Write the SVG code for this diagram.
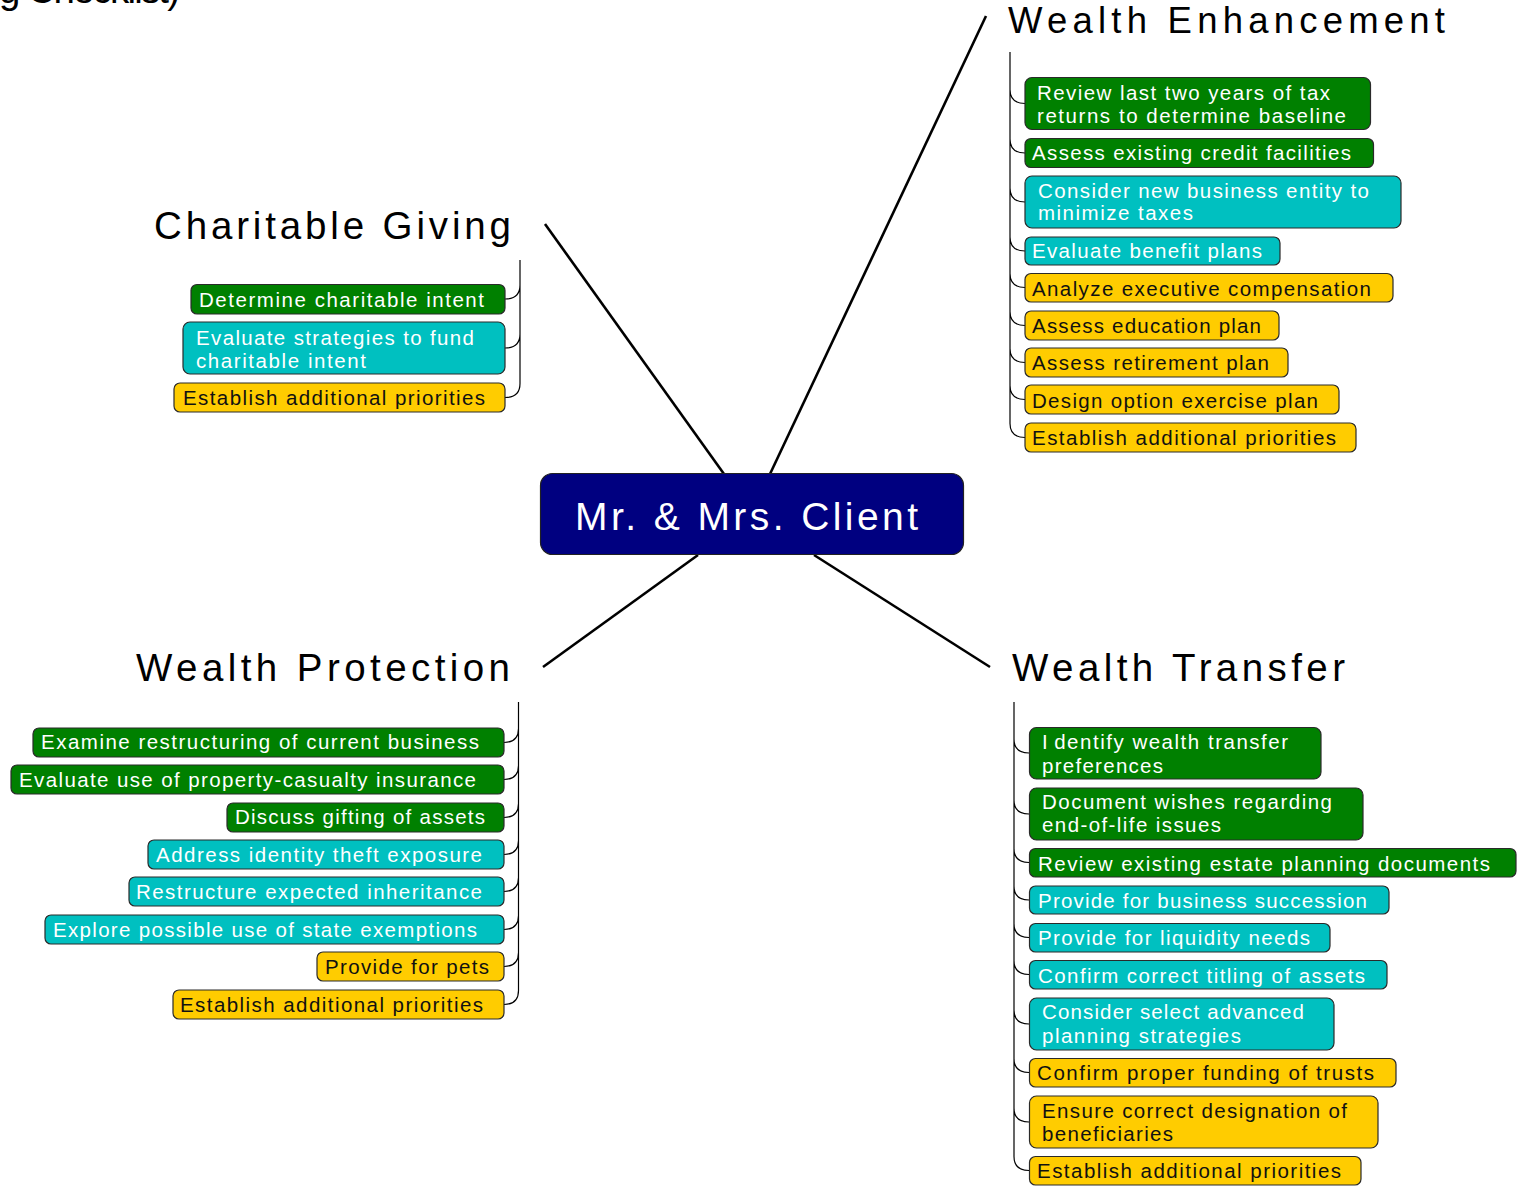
<svg xmlns="http://www.w3.org/2000/svg" width="1521" height="1191" viewBox="0 0 1521 1191">
<style>
text{font-family:"Liberation Sans",Arial,sans-serif}
.n rect{stroke:#2a2a2a;stroke-width:1.2}
.g rect{fill:#008000}.c rect{fill:#00C0C0}.y rect{fill:#FFCC00}
.g text,.c text{fill:#ffffff}.y text{fill:#111111}
.n text{font-size:20.5px}
.t{font-size:38.5px;fill:#000}
.con path,.con line{fill:none;stroke:#000}
.main{stroke-width:2.6}
.br{stroke-width:1.2}
</style>
<text class="t" x="-1" y="3" textLength="181" lengthAdjust="spacing">g Checklist)</text>
<g id="connectors" class="con">
<line class="main" x1="724" y1="474" x2="545" y2="224"/>
<line class="main" x1="770" y1="474" x2="986" y2="16"/>
<line class="main" x1="698" y1="555" x2="543" y2="667"/>
<line class="main" x1="814" y1="555" x2="990" y2="667"/>
<path class="br" d="M1010,52V423.5M1010,89.5Q1010,103.5 1025,103.5M1010,139Q1010,153 1025,153M1010,188Q1010,202 1025,202M1010,237Q1010,251 1025,251M1010,273.5Q1010,287.5 1025,287.5M1010,311.5Q1010,325.5 1025,325.5M1010,348.5Q1010,362.5 1025,362.5M1010,385.5Q1010,399.5 1025,399.5M1010,423.5Q1010,437.5 1025,437.5"/>
<path class="br" d="M520,260V383.5M520,285Q520,299 505,299M520,334Q520,348 505,348M520,383.5Q520,397.5 505,397.5"/>
<path class="br" d="M518.5,702V990.5M518.5,728.5Q518.5,742.5 504,742.5M518.5,765.5Q518.5,779.5 504,779.5M518.5,803.5Q518.5,817.5 504,817.5M518.5,840.5Q518.5,854.5 504,854.5M518.5,877.5Q518.5,891.5 504,891.5M518.5,915.5Q518.5,929.5 504,929.5M518.5,952.5Q518.5,966.5 504,966.5M518.5,990.5Q518.5,1004.5 504,1004.5"/>
<path class="br" d="M1014,702V1156.5M1014,739Q1014,753 1029,753M1014,800Q1014,814 1029,814M1014,848.5Q1014,862.5 1029,862.5M1014,886Q1014,900 1029,900M1014,923.5Q1014,937.5 1029,937.5M1014,960.5Q1014,974.5 1029,974.5M1014,1010Q1014,1024 1029,1024M1014,1058.5Q1014,1072.5 1029,1072.5M1014,1108Q1014,1122 1029,1122M1014,1156.5Q1014,1170.5 1029,1170.5"/>
</g>
<g id="center">
<rect x="540.5" y="473.5" width="423" height="81" rx="12" fill="#000080" stroke="#222" stroke-width="1.2"/>
<text x="575" y="530" font-size="39" fill="#fff" textLength="343" lengthAdjust="spacing">Mr. &amp; Mrs. Client</text>
</g>
<g id="title-enhancement"><text class="t" x="1008" y="33" font-size="36" style="font-size:36.5px" textLength="437" lengthAdjust="spacing">Wealth Enhancement</text></g>
<g id="title-charitable"><text class="t" x="154" y="239" textLength="357" lengthAdjust="spacing">Charitable Giving</text></g>
<g id="title-protection"><text class="t" x="136" y="681" textLength="374" lengthAdjust="spacing">Wealth Protection</text></g>
<g id="title-transfer"><text class="t" x="1012" y="681" textLength="333" lengthAdjust="spacing">Wealth Transfer</text></g>

<g id="we1" class="n g"><rect x="1025" y="77.5" width="345.5" height="52" rx="7"/><text x="1037" y="100" textLength="293" lengthAdjust="spacing">Review last two years of tax</text><text x="1037" y="122.5" textLength="309" lengthAdjust="spacing">returns to determine baseline</text></g>
<g id="we2" class="n g"><rect x="1025" y="138.5" width="348.5" height="29" rx="6"/><text x="1032" y="160" textLength="319" lengthAdjust="spacing">Assess existing credit facilities</text></g>
<g id="we3" class="n c"><rect x="1025" y="176" width="376" height="52" rx="7"/><text x="1038" y="197.5" textLength="331" lengthAdjust="spacing">Consider new business entity to</text><text x="1038" y="220" textLength="155" lengthAdjust="spacing">minimize taxes</text></g>
<g id="we4" class="n c"><rect x="1025" y="237" width="255" height="28" rx="6"/><text x="1032" y="258" textLength="230" lengthAdjust="spacing">Evaluate benefit plans</text></g>
<g id="we5" class="n y"><rect x="1025" y="273.5" width="368" height="28.5" rx="6"/><text x="1032" y="295.5" textLength="339" lengthAdjust="spacing">Analyze executive compensation</text></g>
<g id="we6" class="n y"><rect x="1025" y="311" width="254" height="29" rx="6"/><text x="1032" y="332.5" textLength="229" lengthAdjust="spacing">Assess education plan</text></g>
<g id="we7" class="n y"><rect x="1025" y="348" width="263" height="29" rx="6"/><text x="1032" y="369.5" textLength="237" lengthAdjust="spacing">Assess retirement plan</text></g>
<g id="we8" class="n y"><rect x="1025" y="385" width="314" height="29" rx="6"/><text x="1032" y="407.5" textLength="286" lengthAdjust="spacing">Design option exercise plan</text></g>
<g id="we9" class="n y"><rect x="1025" y="423" width="331" height="29" rx="6"/><text x="1032" y="444.5" textLength="304" lengthAdjust="spacing">Establish additional priorities</text></g>

<g id="cg1" class="n g"><rect x="191" y="284.5" width="314" height="29.5" rx="6"/><text x="199" y="306.5" textLength="285" lengthAdjust="spacing">Determine charitable intent</text></g>
<g id="cg2" class="n c"><rect x="183" y="322" width="322" height="52" rx="7"/><text x="196" y="344.5" textLength="278" lengthAdjust="spacing">Evaluate strategies to fund</text><text x="196" y="367.5" textLength="170" lengthAdjust="spacing">charitable intent</text></g>
<g id="cg3" class="n y"><rect x="174" y="383" width="331" height="29" rx="6"/><text x="183" y="405" textLength="302" lengthAdjust="spacing">Establish additional priorities</text></g>

<g id="wp1" class="n g"><rect x="33" y="728" width="471" height="29" rx="6"/><text x="41" y="749" textLength="438" lengthAdjust="spacing">Examine restructuring of current business</text></g>
<g id="wp2" class="n g"><rect x="11" y="765" width="493" height="29" rx="6"/><text x="19" y="786.5" textLength="457" lengthAdjust="spacing">Evaluate use of property-casualty insurance</text></g>
<g id="wp3" class="n g"><rect x="227" y="803" width="277" height="29" rx="6"/><text x="235" y="824" textLength="250" lengthAdjust="spacing">Discuss gifting of assets</text></g>
<g id="wp4" class="n c"><rect x="148" y="840" width="356" height="29" rx="6"/><text x="156" y="861.5" textLength="326" lengthAdjust="spacing">Address identity theft exposure</text></g>
<g id="wp5" class="n c"><rect x="129" y="877" width="375" height="29" rx="6"/><text x="136" y="899" textLength="346" lengthAdjust="spacing">Restructure expected inheritance</text></g>
<g id="wp6" class="n c"><rect x="45" y="915" width="459" height="29" rx="6"/><text x="53" y="936.5" textLength="424" lengthAdjust="spacing">Explore possible use of state exemptions</text></g>
<g id="wp7" class="n y"><rect x="317" y="952" width="187" height="29" rx="6"/><text x="325" y="974" textLength="164" lengthAdjust="spacing">Provide for pets</text></g>
<g id="wp8" class="n y"><rect x="173" y="990" width="331" height="29" rx="6"/><text x="180" y="1011.5" textLength="303" lengthAdjust="spacing">Establish additional priorities</text></g>

<g id="wt1" class="n g"><rect x="1029.5" y="727.5" width="291.5" height="51.5" rx="7"/><text x="1042" y="748.5" textLength="246" lengthAdjust="spacing">I<tspan dx="5">dentify wealth transfer</tspan></text><text x="1042" y="772.5" textLength="121" lengthAdjust="spacing">preferences</text></g>
<g id="wt2" class="n g"><rect x="1029.5" y="788" width="333.5" height="52" rx="7"/><text x="1042" y="809" textLength="290" lengthAdjust="spacing">Document wishes regarding</text><text x="1042" y="831.5" textLength="179" lengthAdjust="spacing">end-of-life issues</text></g>
<g id="wt3" class="n g"><rect x="1029.5" y="848.5" width="486.5" height="28.5" rx="6"/><text x="1038" y="870.5" textLength="452" lengthAdjust="spacing">Review existing estate planning documents</text></g>
<g id="wt4" class="n c"><rect x="1029.5" y="886" width="359.5" height="28" rx="6"/><text x="1038" y="907.5" textLength="329" lengthAdjust="spacing">Provide for business succession</text></g>
<g id="wt5" class="n c"><rect x="1029.5" y="923.5" width="300.5" height="28.5" rx="6"/><text x="1038" y="944.5" textLength="272" lengthAdjust="spacing">Provide for liquidity needs</text></g>
<g id="wt6" class="n c"><rect x="1029.5" y="960.5" width="357.5" height="28.5" rx="6"/><text x="1038" y="982.5" textLength="327" lengthAdjust="spacing">Confirm correct titling of assets</text></g>
<g id="wt7" class="n c"><rect x="1029.5" y="998" width="304.5" height="52" rx="7"/><text x="1042" y="1019" textLength="262" lengthAdjust="spacing">Consider select advanced</text><text x="1042" y="1042.5" textLength="199" lengthAdjust="spacing">planning strategies</text></g>
<g id="wt8" class="n y"><rect x="1029.5" y="1058.5" width="366.5" height="28.5" rx="6"/><text x="1037" y="1080" textLength="337" lengthAdjust="spacing">Confirm proper funding of trusts</text></g>
<g id="wt9" class="n y"><rect x="1029.5" y="1096" width="348.5" height="52" rx="7"/><text x="1042" y="1117.5" textLength="305" lengthAdjust="spacing">Ensure correct designation of</text><text x="1042" y="1140.5" textLength="131" lengthAdjust="spacing">beneficiaries</text></g>
<g id="wt10" class="n y"><rect x="1029.5" y="1156.5" width="331.5" height="28.5" rx="6"/><text x="1037" y="1178" textLength="304" lengthAdjust="spacing">Establish additional priorities</text></g>
</svg>
